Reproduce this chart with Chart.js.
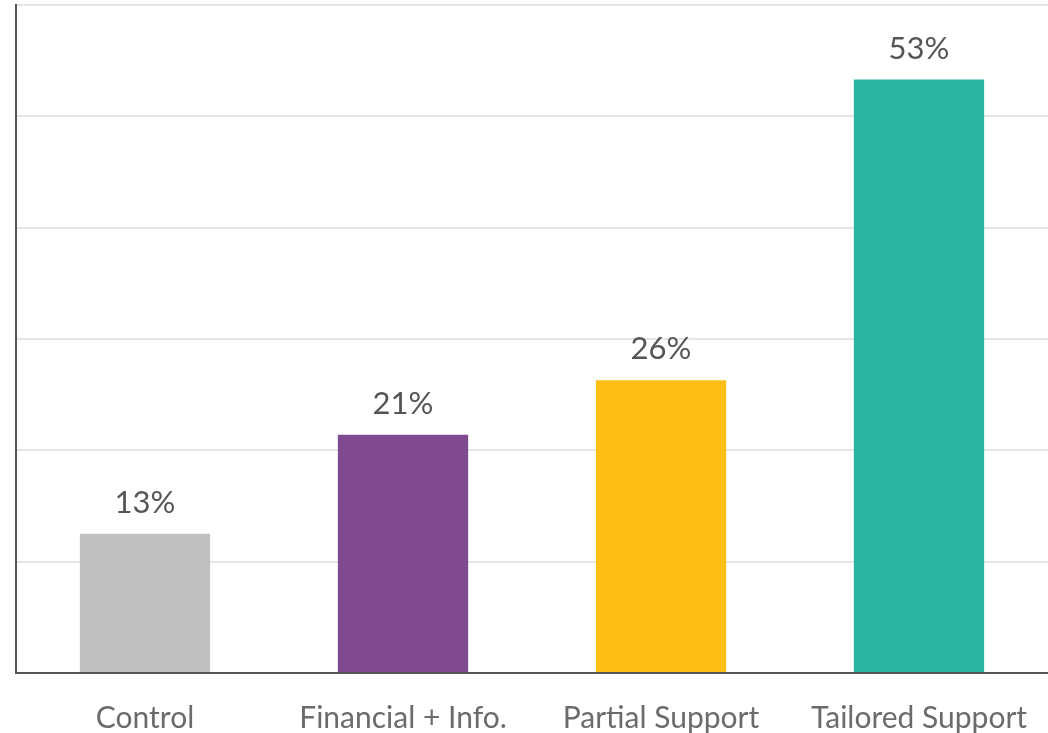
<!DOCTYPE html>
<html>
<head>
<meta charset="utf-8">
<script src="https://cdn.jsdelivr.net/npm/chart.js@4/dist/chart.umd.min.js"></script>
<style>
    html, body { margin: 0; padding: 0; background: #fff; }
    #wrap { width: 1048px; height: 733px; }
</style>
</head>
<body>
<div id="wrap"><canvas id="bar-chart"></canvas></div>
<script>
    "use strict";

    // Data
    var categories = ["Control", "Financial + Info.", "Partial Support", "Tailored Support"];
    var values = [12.5, 21.4, 26.3, 53.3];
    var barColors = ["#c0c0c0", "#7f4a8f", "#fdbf16", "#2bb5a3"];
    var yTicks = [0, 10, 20, 30, 40, 50, 60];

    // Value labels above bars
    var valueLabels = {
        id: "valueLabels",
        afterDatasetsDraw: function (chart) {
            var ctx = chart.ctx;
            var meta = chart.getDatasetMeta(0);
            ctx.save();
            ctx.font = "31px Lato";
            ctx.fillStyle = "#555555";
            ctx.textAlign = "center";
            ctx.textBaseline = "middle";
            meta.data.forEach(function (bar, i) {
                ctx.fillText(Math.round(values[i]) + "%", bar.x, bar.y - 31);
            });
            ctx.restore();
        }
    };

    var ctx1 = document.getElementById("bar-chart").getContext("2d");
    var myChart1 = new Chart(ctx1, {
        type: "bar",
        data: {
            labels: categories,
            datasets: [{
                data: values,
                backgroundColor: barColors,
                categoryPercentage: 1,
                barPercentage: 0.505
            }]
        },
        options: {
            responsive: true,
            maintainAspectRatio: false,
            animation: false,
            layout: { padding: { left: 16, top: 5, right: 0, bottom: 0 } },
            plugins: {
                legend: { display: false },
                tooltip: { enabled: false }
            },
            scales: {
                x: {
                    grid: { display: false },
                    border: { color: "#555555", width: 2 },
                    ticks: {
                        color: "#6b6b6b",
                        font: { family: "Lato", size: 30 },
                        padding: 19,
                        maxRotation: 0
                    },
                    afterFit: function (axis) {
                        axis.height = 60;
                    }
                },
                y: {
                    min: 0,
                    max: 60,
                    afterBuildTicks: function (axis) {
                        axis.ticks = yTicks.map(function (v) { return { value: v }; });
                    },
                    grid: { color: "#e6e6e6", lineWidth: 2, drawTicks: false },
                    border: { color: "#555555", width: 2 },
                    ticks: { display: false }
                }
            }
        },
        plugins: [valueLabels]
    });
</script>
</body>
</html>
